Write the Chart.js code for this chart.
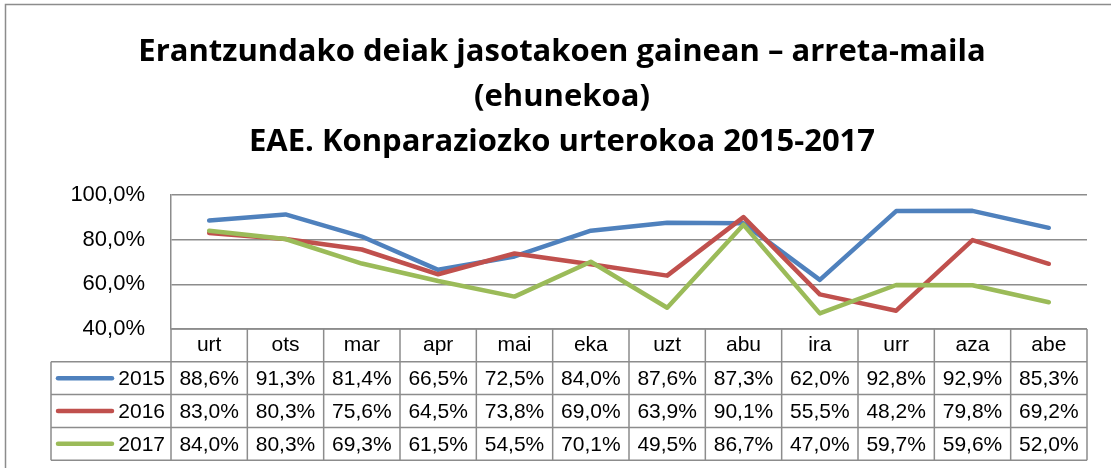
<!DOCTYPE html>
<html>
<head>
<meta charset="utf-8">
<script src="https://cdn.jsdelivr.net/npm/chart.js@4/dist/chart.umd.min.js"></script>
<style>
  html, body { margin: 0; padding: 0; background: #ffffff; }
  #wrap { width: 1111px; height: 468px; }
</style>
</head>
<body>
<div id="wrap"><canvas id="c" width="1111" height="468"></canvas></div>
<script>
const titleLines = [
  'Erantzundako deiak jasotakoen gainean – arreta-maila',
  '(ehunekoa)',
  'EAE. Konparaziozko urterokoa 2015-2017'
];
const categories = ['urt', 'ots', 'mar', 'apr', 'mai', 'eka', 'uzt', 'abu', 'ira', 'urr', 'aza', 'abe'];
const seriesNames = ['2015', '2016', '2017'];
const values2015 = [88.6, 91.3, 81.4, 66.5, 72.5, 84.0, 87.6, 87.3, 62.0, 92.8, 92.9, 85.3];
const values2016 = [83.0, 80.3, 75.6, 64.5, 73.8, 69.0, 63.9, 90.1, 55.5, 48.2, 79.8, 69.2];
const values2017 = [84.0, 80.3, 69.3, 61.5, 54.5, 70.1, 49.5, 86.7, 47.0, 59.7, 59.6, 52.0];
const yTicks = [40, 60, 80, 100];
const colors = ['#4F81BD', '#C0504D', '#9BBB59'];

const GRID = '#8c8c8c';
const fmt = v => v.toFixed(1).replace('.', ',') + '%';

const tablePlugin = {
  id: 'dataTable',
  beforeDraw(chart) {
    const ctx = chart.ctx;
    ctx.save();
    ctx.strokeStyle = GRID;
    ctx.lineWidth = 1.5;
    ctx.beginPath();
    ctx.moveTo(5.5, 468);
    ctx.lineTo(5.5, 4.5);
    ctx.lineTo(1111, 4.5);
    ctx.stroke();
    ctx.restore();
  },
  afterDraw(chart) {
    const ctx = chart.ctx;
    const area = chart.chartArea;
    const x = chart.scales.x;
    const n = categories.length;
    const colW = (area.right - area.left) / n;
    const rowH = 32.8;
    const top = area.bottom;
    const legLeft = 51;
    const bottom = top + rowH * 4;
    ctx.save();
    ctx.strokeStyle = GRID;
    ctx.lineWidth = 1.5;
    ctx.beginPath();
    ctx.moveTo(area.left, top); ctx.lineTo(area.right, top);
    for (let r = 1; r <= 4; r++) {
      const y = top + rowH * r;
      ctx.moveTo(legLeft, y); ctx.lineTo(area.right, y);
    }
    for (let k = 0; k <= n; k++) {
      const xx = area.left + colW * k;
      ctx.moveTo(xx, top); ctx.lineTo(xx, bottom);
    }
    ctx.moveTo(legLeft, top + rowH); ctx.lineTo(legLeft, bottom);
    ctx.stroke();

    const sets = [values2015, values2016, values2017];
    ctx.font = '21px "Liberation Sans", Arial, sans-serif';
    ctx.fillStyle = '#000000';
    ctx.textBaseline = 'middle';
    sets.forEach((vals, s) => {
      const cy = top + rowH * (s + 1) + rowH / 2 + 1;
      ctx.textAlign = 'center';
      vals.forEach((v, i) => {
        ctx.fillText(fmt(v), x.getPixelForValue(i), cy);
      });
      ctx.strokeStyle = colors[s];
      ctx.lineWidth = 4.5;
      ctx.lineCap = 'round';
      ctx.beginPath();
      ctx.moveTo(58, cy - 1); ctx.lineTo(112, cy - 1);
      ctx.stroke();
      ctx.textAlign = 'right';
      ctx.fillText(seriesNames[s], 165, cy);
    });
    ctx.restore();
  }
};

const datasets = [values2015, values2016, values2017].map((vals, i) => ({
  label: seriesNames[i],
  data: vals,
  borderColor: colors[i],
  backgroundColor: colors[i],
  borderWidth: 4.5,
  pointRadius: 0,
  pointHoverRadius: 0,
  tension: 0,
  fill: false,
  borderCapStyle: 'round',
  borderJoinStyle: 'round',
  order: 3 - i
}));

new Chart(document.getElementById('c'), {
  type: 'line',
  data: { labels: categories, datasets },
  plugins: [tablePlugin],
  options: {
    responsive: false,
    animation: false,
    layout: { padding: { left: 37, right: 24, top: 0, bottom: 0 } },
    plugins: {
      legend: { display: false },
      tooltip: { enabled: false },
      title: {
        display: true,
        text: titleLines,
        color: '#000000',
        font: { family: '"Open Sans", sans-serif', size: 31, weight: 'bold', lineHeight: 45 / 31 },
        padding: { top: 29.5, bottom: 30.5 }
      }
    },
    scales: {
      x: {
        type: 'category',
        offset: true,
        grid: { display: false, drawTicks: false },
        border: { display: false },
        ticks: {
          color: '#000000',
          font: { family: '"Liberation Sans", Arial, sans-serif', size: 21 },
          padding: 4,
          maxRotation: 0,
          autoSkip: false
        },
        afterFit(scale) { scale.height = 139; }
      },
      y: {
        min: 40,
        max: 100,
        afterBuildTicks(scale) { scale.ticks = yTicks.map(v => ({ value: v })); },
        grid: { color: GRID, lineWidth: 1.5, drawTicks: false },
        border: { display: true, color: GRID, width: 1.5 },
        ticks: {
          color: '#000000',
          font: { family: '"Liberation Sans", Arial, sans-serif', size: 22 },
          padding: 26,
          callback: v => fmt(v)
        },
        afterFit(scale) { scale.width = 134; }
      }
    }
  }
});
</script>
</body>
</html>
